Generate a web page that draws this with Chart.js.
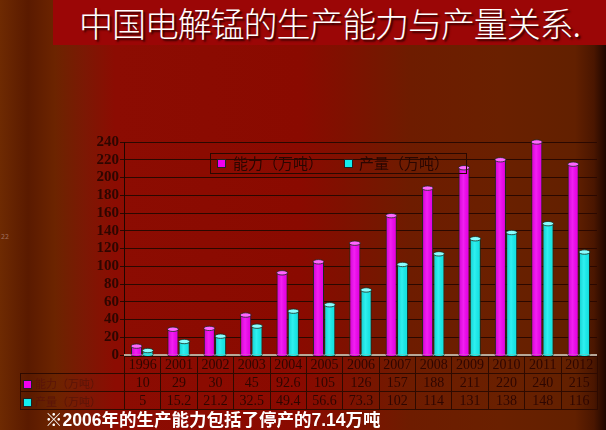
<!DOCTYPE html>
<html><head><meta charset="utf-8">
<script src="https://cdn.jsdelivr.net/npm/chart.js@4"></script>
<style>
html,body{margin:0;padding:0;}
body{width:606px;height:430px;overflow:hidden;position:relative;
 background:linear-gradient(to right,#6e2a02 0px,#5a1a00 28px,#6c2400 55px,#7c1804 85px,#8c0c02 115px,#8a0a00 300px,#801000 340px,#6e1c00 410px,#6a2000 500px,#622000 575px,#4a1600 594px,#1e0600 606px);
 font-family:"Noto Sans CJK SC","Noto Sans",sans-serif;}
#banner{position:absolute;left:53px;top:0;width:553px;height:45px;background:#9b0606;}
#title{position:absolute;left:79px;top:-2px;font-size:34px;font-weight:300;color:#fff;white-space:nowrap;letter-spacing:-1.1px;text-shadow:2px 2px 2px #300000;}
#wrap{position:absolute;left:0;top:0;}
#legend{position:absolute;left:210px;top:153px;width:257px;height:21px;border:1px solid #2a0800;box-sizing:border-box;font-size:15px;color:#2a0600;}
.lk{position:absolute;top:5px;width:9px;height:9px;border:1px solid #222;box-sizing:border-box;}
.lt{position:absolute;top:-2px;white-space:nowrap;}
#tbl{position:absolute;border-collapse:collapse;table-layout:fixed;}
#tbl td{border:1px solid #2e0a00;padding:0;text-align:center;font-family:"Liberation Serif",serif;font-size:14px;color:#2e0600;white-space:nowrap;overflow:hidden;}
#tbl td.lab{text-align:left;font-family:"Noto Sans CJK SC",sans-serif;font-size:11px;color:#5a1408;padding-left:2px;}
#tbl td.blank{border:none;}
.sq{display:inline-block;width:7px;height:7px;border:1px solid #222;margin-right:3px;vertical-align:-1px;}
#note{position:absolute;left:45px;top:406px;font-size:17.5px;font-weight:bold;color:#fff;white-space:nowrap;}
#note .d{font-family:"Liberation Sans",Arial,sans-serif;}
#tiny{position:absolute;left:1px;top:231px;font-size:7px;color:#a07060;}
</style></head>
<body>
<div id="banner"></div>
<div id="title">中国电解锰的生产能力与产量关系.</div>
<div id="tiny">22</div>
<div id="wrap"><canvas id="c" width="606" height="430"></canvas></div>
<div id="legend"></div>
<table id="tbl"></table>
<div id="note">※<span class="d">2006</span>年的生产能力包括了停产的<span class="d">7.14</span>万吨</div>
<script>
const years = ['1996','2001','2002','2003','2004','2005','2006','2007','2008','2009','2010','2011','2012'];
const capacity = [10, 29, 30, 45, 92.6, 105, 126, 157, 188, 211, 220, 240, 215];
const production = [5, 15.2, 21.2, 32.5, 49.4, 56.6, 73.3, 102, 114, 131, 138, 148, 116];
const capacityText = ['10','29','30','45','92.6','105','126','157','188','211','220','240','215'];
const productionText = ['5','15.2','21.2','32.5','49.4','56.6','73.3','102','114','131','138','148','116'];
const seriesNames = ['能力（万吨）', '产量（万吨）'];
const seriesColors = ['#f000f0', '#12eeee'];
const topColors = ['#ff66ff', '#88ffff'];
const yMin = 0, yMax = 240, yStep = 20;

const cyl = {
  id: 'cyl',
  beforeDatasetsDraw(chart) {
    const c = chart.ctx, a = chart.chartArea;
    c.save();
    c.strokeStyle = '#b8a898';
    c.lineWidth = 2;
    c.beginPath();
    c.moveTo(a.left, a.bottom);
    c.lineTo(a.right, a.bottom);
    c.stroke();
    c.restore();
  },
  afterDatasetsDraw(chart) {
    const c = chart.ctx;
    c.save();
    chart.data.datasets.forEach((ds, i) => {
      const meta = chart.getDatasetMeta(i);
      meta.data.forEach(bar => {
        const w = bar.width, x = bar.x, y = bar.y, b = bar.base;
        const g = c.createLinearGradient(x - w / 2, 0, x + w / 2, 0);
        g.addColorStop(0, 'rgba(0,0,0,0.15)');
        g.addColorStop(0.45, 'rgba(255,255,255,0.12)');
        g.addColorStop(1, 'rgba(0,0,0,0.05)');
        c.fillStyle = g;
        c.fillRect(x - w / 2 + 1, y, w - 2, b - y);
        c.beginPath();
        c.ellipse(x, b, w / 2, 2, 0, 0, Math.PI);
        c.fillStyle = ds.backgroundColor;
        c.fill();
        c.strokeStyle = '#1c2a1c';
        c.lineWidth = 0.8;
        c.stroke();
        c.beginPath();
        c.ellipse(x, y, w / 2, 2.2, 0, 0, Math.PI * 2);
        c.fillStyle = topColors[i];
        c.fill();
        c.strokeStyle = '#1c2a1c';
        c.lineWidth = 0.8;
        c.stroke();
      });
    });
    c.restore();
  }
};

const chart = new Chart(document.getElementById('c'), {
  type: 'bar',
  data: {
    labels: years,
    datasets: [
      { label: seriesNames[0], data: capacity, backgroundColor: seriesColors[0], borderColor: '#1c2a1c', borderWidth: 1, categoryPercentage: 0.62, barPercentage: 0.98 },
      { label: seriesNames[1], data: production, backgroundColor: seriesColors[1], borderColor: '#1c2a1c', borderWidth: 1, categoryPercentage: 0.62, barPercentage: 0.98 }
    ]
  },
  options: {
    responsive: false,
    animation: false,
    layout: { padding: { left: 84, right: 9, top: 142, bottom: 75 } },
    plugins: { legend: { display: false }, tooltip: { enabled: false } },
    scales: {
      x: { display: false },
      y: {
        min: yMin, max: yMax,
        ticks: { stepSize: yStep, autoSkip: false, color: '#2e0600', padding: 1, font: { family: 'Liberation Serif', size: 15, weight: 'bold' } },
        grid: { color: '#2a0800', lineWidth: 1, tickLength: 4 },
        border: { color: '#1e0600', width: 1 },
        afterFit(s) { s.width = 40; }
      }
    }
  },
  plugins: [cyl]
});

const leg = document.getElementById('legend');
const legPos = [[6, 22], [133, 148]];
seriesNames.forEach((n, i) => {
  const k = document.createElement('div');
  k.className = 'lk'; k.style.left = legPos[i][0] + 'px'; k.style.background = seriesColors[i];
  const t = document.createElement('div');
  t.className = 'lt'; t.style.left = legPos[i][1] + 'px'; t.textContent = n;
  leg.appendChild(k); leg.appendChild(t);
});

const area = chart.chartArea;
const tbl = document.getElementById('tbl');
const labLeft = 20;
tbl.style.left = labLeft + 'px';
tbl.style.top = (area.bottom + 1) + 'px';
const colW = area.width / years.length;
tbl.style.width = (area.right - labLeft) + 'px';
const cg = document.createElement('colgroup');
const c0 = document.createElement('col'); c0.style.width = (area.left - labLeft) + 'px'; cg.appendChild(c0);
years.forEach(() => { const cc = document.createElement('col'); cc.style.width = colW + 'px'; cg.appendChild(cc); });
tbl.appendChild(cg);
function addRow(label, color, vals, h) {
  const tr = document.createElement('tr');
  tr.style.height = h + 'px';
  const td0 = document.createElement('td');
  if (label === null) { td0.className = 'blank'; }
  else {
    td0.className = 'lab';
    const sq = document.createElement('span'); sq.className = 'sq'; sq.style.background = color;
    td0.appendChild(sq); td0.appendChild(document.createTextNode(label));
  }
  tr.appendChild(td0);
  vals.forEach(v => { const td = document.createElement('td'); td.textContent = v; tr.appendChild(td); });
  tbl.appendChild(tr);
}
addRow(null, null, years, 17);
addRow(seriesNames[0], seriesColors[0], capacityText, 18);
addRow(seriesNames[1], seriesColors[1], productionText, 18);
</script>
</body></html>
